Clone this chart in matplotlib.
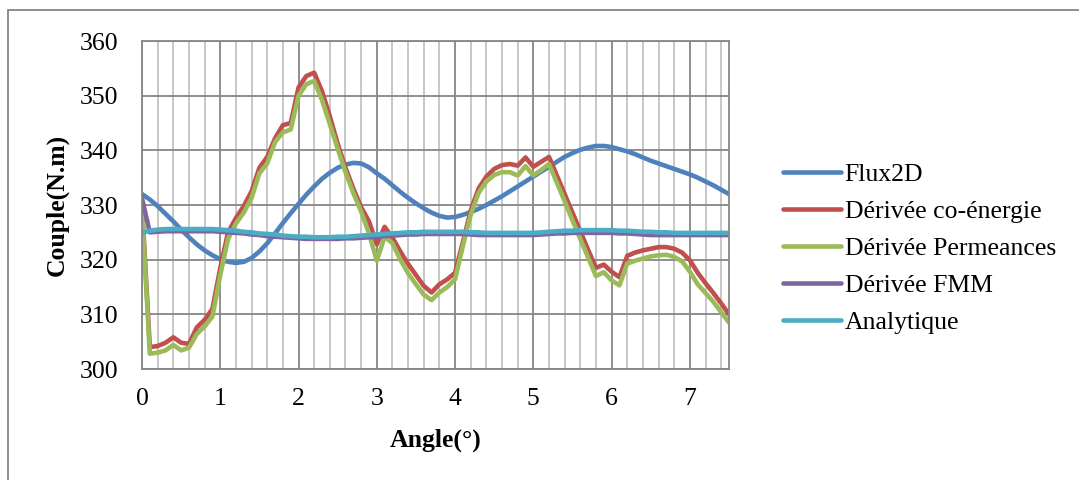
import matplotlib
matplotlib.use("Agg")
import matplotlib.pyplot as plt
from matplotlib.patches import Rectangle
from matplotlib.ticker import MultipleLocator

# angle (deg), one point every 0.1
angle = [0.0, 0.1, 0.2, 0.3, 0.4, 0.5, 0.6, 0.7, 0.8, 0.9,
         1.0, 1.1, 1.2, 1.3, 1.4, 1.5, 1.6, 1.7, 1.8, 1.9,
         2.0, 2.1, 2.2, 2.3, 2.4, 2.5, 2.6, 2.7, 2.8, 2.9,
         3.0, 3.1, 3.2, 3.3, 3.4, 3.5, 3.6, 3.7, 3.8, 3.9,
         4.0, 4.1, 4.2, 4.3, 4.4, 4.5, 4.6, 4.7, 4.8, 4.9,
         5.0, 5.1, 5.2, 5.3, 5.4, 5.5, 5.6, 5.7, 5.8, 5.9,
         6.0, 6.1, 6.2, 6.3, 6.4, 6.5, 6.6, 6.7, 6.8, 6.9,
         7.0, 7.1, 7.2, 7.3, 7.4, 7.5]

flux2d = [332.0, 331.0, 329.8, 328.4, 327.0, 325.5, 324.1, 322.8, 321.7, 320.8,
          320.1, 319.6, 319.4, 319.6, 320.3, 321.5, 323.0, 324.8, 326.7, 328.5,
          330.2, 331.9, 333.4, 334.8, 335.9, 336.8, 337.4, 337.7, 337.6, 336.9,
          335.8, 334.8, 333.6, 332.4, 331.3, 330.3, 329.4, 328.6, 328.0, 327.7,
          327.8, 328.2, 328.7, 329.3, 330.0, 330.8, 331.6, 332.5, 333.4, 334.3,
          335.2, 336.1, 337.0, 337.9, 338.8, 339.5, 340.1, 340.5, 340.8, 340.8,
          340.6, 340.2, 339.8, 339.3, 338.7, 338.1, 337.6, 337.1, 336.6, 336.1,
          335.6, 335.0, 334.3, 333.6, 332.8, 332.0]

co_energie = [330.0, 304.0, 304.2, 304.8, 305.8, 304.8, 304.6, 307.6, 309.0, 311.0,
              318.5, 325.0, 327.6, 329.8, 332.5, 336.8, 338.8, 342.2, 344.6, 345.0,
              351.5, 353.6, 354.2, 350.8, 346.2, 341.2, 336.8, 333.0, 329.6, 327.0,
              322.8, 326.0, 324.0, 321.5, 319.2, 317.2, 315.2, 314.0, 315.5, 316.4,
              317.6, 323.2, 329.0, 333.0, 335.2, 336.6, 337.3, 337.5, 337.2, 338.7,
              337.0, 337.9, 338.8, 335.4, 332.0, 328.6, 325.2, 321.8, 318.5, 319.1,
              317.8, 316.8, 320.7, 321.3, 321.7, 322.0, 322.3, 322.3, 322.0, 321.3,
              319.9, 317.6, 315.7, 313.9, 312.0, 310.0]

permeances = [329.0, 302.8, 303.0, 303.4, 304.4, 303.4, 303.9, 306.4, 307.8, 309.6,
              317.2, 323.8, 326.6, 328.6, 331.3, 335.8, 337.6, 341.5, 343.3, 343.8,
              350.0, 352.1, 352.7, 349.2, 344.8, 340.3, 336.0, 332.2, 328.8, 324.8,
              319.8, 324.2, 323.0, 320.0, 317.5, 315.5, 313.6, 312.6, 314.0, 315.0,
              316.4, 322.5, 328.2, 332.2, 334.3, 335.5, 336.0, 336.0, 335.4, 337.1,
              335.4, 336.4, 337.5, 334.1, 330.7, 327.2, 323.8, 320.4, 317.0, 317.7,
              316.2, 315.3, 319.3, 319.8, 320.2, 320.6, 320.8, 320.9, 320.5, 319.7,
              317.8, 315.5, 313.9, 312.3, 310.4, 308.5]

fmm = [331.2, 325.0, 325.1, 325.2, 325.2, 325.2, 325.2, 325.2, 325.2, 325.2,
       325.1, 325.0, 324.9, 324.8, 324.6, 324.5, 324.3, 324.2, 324.1, 324.0,
       323.9, 323.8, 323.8, 323.8, 323.8, 323.8, 323.9, 323.9, 324.0, 324.1,
       324.2, 324.3, 324.4, 324.5, 324.6, 324.6, 324.7, 324.7, 324.7, 324.7,
       324.7, 324.7, 324.6, 324.5, 324.5, 324.5, 324.5, 324.5, 324.5, 324.5,
       324.5, 324.6, 324.7, 324.8, 324.8, 324.9, 324.9, 324.9, 324.9, 324.9,
       324.9, 324.8, 324.8, 324.7, 324.6, 324.5, 324.5, 324.5, 324.5, 324.5,
       324.5, 324.5, 324.5, 324.5, 324.5, 324.5]

analytique = [324.9, 325.3, 325.5, 325.6, 325.6, 325.6, 325.6, 325.6, 325.6, 325.6,
              325.5, 325.4, 325.3, 325.1, 325.0, 324.8, 324.7, 324.6, 324.4, 324.3,
              324.2, 324.2, 324.1, 324.1, 324.1, 324.2, 324.2, 324.3, 324.4, 324.5,
              324.6, 324.7, 324.8, 324.9, 325.0, 325.0, 325.1, 325.1, 325.1, 325.1,
              325.1, 325.1, 325.0, 325.0, 324.9, 324.9, 324.9, 324.9, 324.9, 324.9,
              324.9, 325.0, 325.1, 325.2, 325.3, 325.3, 325.4, 325.4, 325.4, 325.4,
              325.4, 325.3, 325.3, 325.2, 325.1, 325.1, 325.0, 325.0, 324.9, 324.9,
              324.9, 324.9, 324.9, 324.9, 324.9, 324.9]

series = [
    ("Flux2D", flux2d, "#4F81BD"),
    ("Dérivée co-énergie", co_energie, "#C0504D"),
    ("Dérivée Permeances", permeances, "#9BBB59"),
    ("Dérivée FMM", fmm, "#8064A2"),
    ("Analytique", analytique, "#4BACC6"),
]

plt.rcParams["font.family"] = ["Liberation Serif", "DejaVu Serif"]
FS = 18.5
W, H = 1079, 480

fig = plt.figure(figsize=(W / 100, H / 100), dpi=100)
ax = fig.add_axes([142 / W, 1 - 369 / H, (729 - 142) / W, (369 - 41) / H])

for name, vals, col in series:
    ax.plot(angle, vals, color=col, lw=3.3, label=name,
            solid_capstyle="round", solid_joinstyle="round")

ax.set_xlim(0, 7.5)
ax.set_ylim(300, 360)
ax.xaxis.set_major_locator(MultipleLocator(1))
ax.xaxis.set_minor_locator(MultipleLocator(0.2))
ax.yaxis.set_major_locator(MultipleLocator(10))
ax.grid(which="major", color="#868686", lw=1.3)
ax.grid(which="minor", axis="x", color="#BEBEBE", lw=1.2)
ax.set_axisbelow(True)
ax.tick_params(which="both", length=0)
ax.tick_params(axis="x", labelsize=FS, pad=14)
ax.tick_params(axis="y", labelsize=FS, pad=17)
for sp in ax.spines.values():
    sp.set_color("#868686")
    sp.set_linewidth(1.3)

fig.text(57 / W, 1 - 205 / H, "Couple(N.m)", rotation=90, ha="center", va="center",
         fontsize=FS, fontweight="bold")
fig.text(436 / W, 1 - 440 / H, "Angle(°)", ha="center", va="center",
         fontsize=FS, fontweight="bold")

fig.legend(loc="upper left", bbox_to_anchor=(783 / W, 1 - 163 / H), frameon=False,
           fontsize=FS, handlelength=2.25, handletextpad=0.15, labelspacing=0.55,
           borderpad=0, borderaxespad=0)

# outer chart border
fig.patches.append(Rectangle((8 / W, -0.1), 1.2, 1.1 - 10 / H, transform=fig.transFigure,
                             fill=False, edgecolor="#868686", lw=1.3))

fig.savefig("out.png", dpi=100)
